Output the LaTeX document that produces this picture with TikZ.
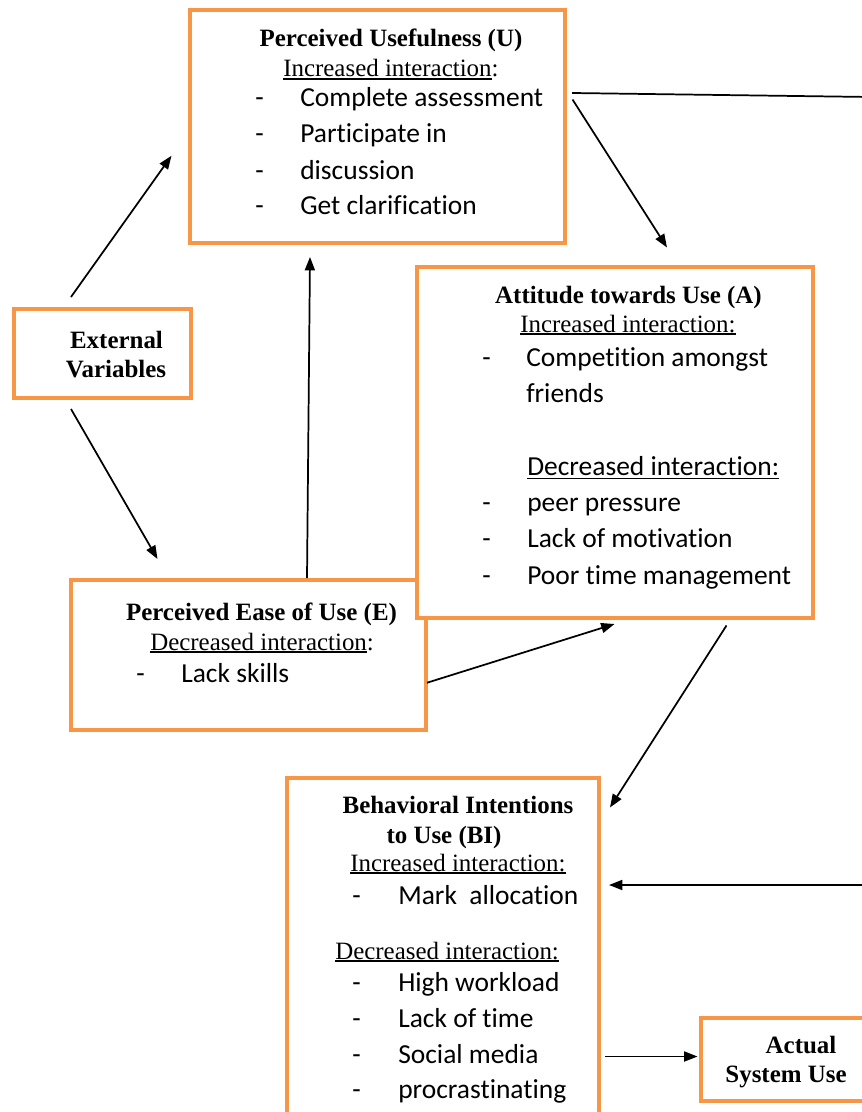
\documentclass[tikz,border=0pt]{standalone}
\usepackage{fontspec}
\setmainfont{Liberation Serif}
\newfontfamily\calib[Ligatures={NoCommon,NoContextual}]{Carlito}
\usetikzlibrary{arrows.meta,calc}
\definecolor{boxorange}{HTML}{F79646}
\newcommand\ulT[1]{\setbox0\hbox{#1}\rlap{\rule[-1.9pt]{\wd0}{0.9pt}}\box0}
\newcommand\ulC[1]{\setbox0\hbox{#1}\rlap{\rule[-3.2pt]{\wd0}{1.3pt}}\box0}
\tikzset{
  box/.style={draw=boxorange, line width=3pt, fill=white, rectangle, inner sep=0pt, outer sep=0pt},
  hd/.style={inner sep=0pt, anchor=base, font=\fontsize{18.7}{22}\selectfont\bfseries},
  tm/.style={inner sep=0pt, anchor=base west, font=\fontsize{18.7}{22}\selectfont},
  cb/.style={inner sep=0pt, anchor=base west, font=\fontsize{20.6}{25}\selectfont\calib},
  arr/.style={line width=1.3pt, -{Triangle[length=10pt,width=7.5pt]}},
  ln/.style={line width=1.3pt}
}
\begin{document}
\begin{tikzpicture}[x=0.75pt,y=-0.75pt]
\useasboundingbox (0,0) rectangle (862,1112);
\clip (0,0) rectangle (862,1112);

% boxes
\node[box, minimum width=375*0.75pt, minimum height=232.5*0.75pt] (U) at (377,126.75) {};
\node[box, minimum width=176.5*0.75pt, minimum height=89*0.75pt] (ext) at (102.25,353.5) {};
\node[box, minimum width=355*0.75pt, minimum height=149.5*0.75pt] (E) at (248,654.75) {};
\node[box, minimum width=396.5*0.75pt, minimum height=350*0.75pt] (A) at (614.75,442.5) {};
\node[box, minimum width=312.5*0.75pt, minimum height=352.5*0.75pt] (BI) at (442.75,953.75) {};
\node[box, minimum width=179.5*0.75pt, minimum height=83*0.75pt] (ASU) at (790.25,1059) {};

% U text
\node[hd] (u0) at (391,47) {Perceived Usefulness (U)};
\node[tm] (u1) at (283,77) {\ulT{Increased interaction}:};
\node[cb] (u2d) at (255,107) {-};
\node[cb] (u2) at (300,107) {Complete assessment};
\node[cb] (u3d) at (255,143) {-};
\node[cb] (u3) at (300,143) {Participate in};
\node[cb] (u4d) at (255,180) {-};
\node[cb] (u4) at (300,180) {discussion};
\node[cb] (u5d) at (255,215) {-};
\node[cb] (u5) at (300,215) {Get clarification};

% External
\node[hd] (x1) at (116.5,348) {External};
\node[hd] (x2) at (116,377) {Variables};

% A text
\node[hd] (a0) at (628.5,304) {Attitude towards Use (A)};
\node[tm] (a1) at (520,332) {\ulT{Increased interaction:}};
\node[cb] (a2d) at (482,366) {-};
\node[cb] (a2) at (526,366) {Competition amongst};
\node[cb] (a3) at (526,402) {friends};
\node[cb] (a4) at (527,475) {\ulC{Decreased interaction:}};
\node[cb] (a5d) at (482,511) {-};
\node[cb] (a5) at (527,511) {peer pressure};
\node[cb] (a6d) at (482,547) {-};
\node[cb] (a6) at (527,547) {Lack of motivation};
\node[cb] (a7d) at (482,584) {-};
\node[cb] (a7) at (527,584) {Poor time management};

% E text
\node[hd] (e0) at (261.5,620) {Perceived Ease of Use (E)};
\node[tm] (e1) at (150,650) {\ulT{Decreased interaction}:};
\node[cb] (e2d) at (136,682) {-};
\node[cb] (e2) at (181,682) {Lack skills};

% BI text
\node[hd] (b0) at (458,813) {Behavioral Intentions};
\node[hd] (b1) at (444,843) {to Use (BI)};
\node[tm] (b2) at (350,871) {\ulT{Increased interaction:}};
\node[cb] (b3d) at (352,904) {-};
\node[cb] (b3) at (398,904) {Mark\ \ allocation};
\node[tm] (b4) at (335,959) {\ulT{Decreased interaction:}};
\node[cb] (b5d) at (352,991) {-};
\node[cb] (b5) at (398,991) {High workload};
\node[cb] (b6d) at (352,1027) {-};
\node[cb] (b6) at (398,1027) {Lack of time};
\node[cb] (b7d) at (352,1063) {-};
\node[cb] (b7) at (398,1063) {Social media};
\node[cb] (b8d) at (352,1098) {-};
\node[cb] (b8) at (398,1098) {procrastinating};

% Actual system use
\node[hd] (s1) at (801,1053) {Actual};
\node[hd] (s2) at (786,1082) {System Use};

% free ends off the right edge
\coordinate (offR1) at (870,97);
\coordinate (offR2) at (870,885);

% connectors
\draw[arr] ($(ext.north west)+(57,-12)$) -- ($(U.west)+(-18,29)$);
\draw[arr] ($(ext.south west)+(57,11)$) -- ($(E.north west)+(87,-21)$);
\draw[arr] ($(E.north west)+(236.5,-2)$) -- ($(U.south west)+(120.5,14)$);
\draw[ln] ($(U.north east)+(7.5,82.5)$) -- (offR1);
\draw[arr] ($(U.north east)+(8,89)$) -- ($(A.north west)+(250.5,-20)$);
\draw[arr] ($(E.east)+(1.5,28)$) -- ($(A.south west)+(198,6.5)$);
\draw[arr] ($(A.south west)+(310,8)$) -- ($(BI.north east)+(11,30)$);
\draw[arr] (offR2) -- ($(BI.north east)+(10,107.5)$);
\draw[arr] ($(BI.north east)+(6,279)$) -- ($(ASU.west)+(-3,-2.5)$);
\end{tikzpicture}
\end{document}
